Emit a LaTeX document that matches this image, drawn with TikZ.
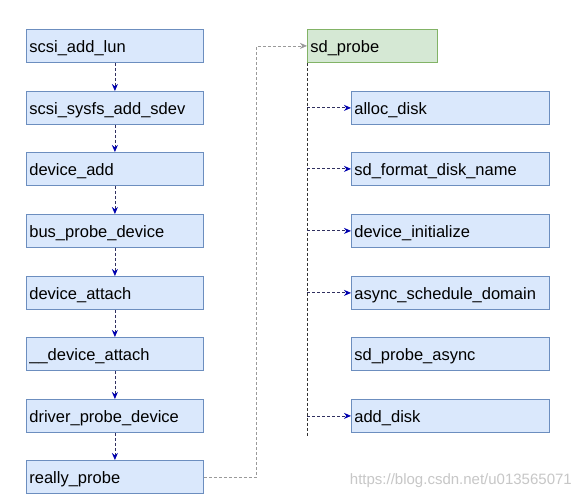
\documentclass[tikz,border=0pt]{standalone}
\usepackage{fontspec}
\setmainfont{Liberation Sans}
\usetikzlibrary{arrows.meta}
\definecolor{bfill}{HTML}{DAE8FC}
\definecolor{bdraw}{HTML}{6C8EBF}
\definecolor{gfill}{HTML}{D5E8D4}
\definecolor{gdraw}{HTML}{82B366}
\definecolor{arr}{HTML}{0000B0}
\definecolor{aline}{HTML}{303060}
\definecolor{conn}{HTML}{9A9A9A}
\begin{document}
\begin{tikzpicture}[x=1pt,y=-1pt,
  fbox/.style={draw=bdraw,fill=bfill,line width=0.8pt,anchor=north west,minimum height=33pt,
    inner xsep=3pt,inner ysep=0pt,align=left,text height=13pt,text depth=0pt,font=\fontsize{16.5}{18}\selectfont},
  lbox/.style={fbox,text width=171pt},
  rbox/.style={fbox,text width=192pt},
  gbox/.style={fbox,draw=gdraw,fill=gfill,text width=124pt},
  darr/.style={aline,dash pattern=on 3pt off 2pt,line width=0.8pt,-{Stealth[length=7pt,width=6pt,color=arr]}},
  vline/.style={black!80,dash pattern=on 3pt off 2pt,line width=0.7pt},
  garr/.style={conn,dash pattern=on 3pt off 2pt,line width=0.7pt,-{Stealth[length=7pt,width=6pt]}}]
\useasboundingbox (0,0) rectangle (574,500);
\fill[white] (0,0) rectangle (574,500);
% left column
\node[lbox] (l1) at (26,29) {scsi\_add\_lun};
\node[lbox] (l2) at (26,91) {scsi\_sysfs\_add\_sdev};
\node[lbox] (l3) at (26,152) {device\_add};
\node[lbox] (l4) at (26,214) {bus\_probe\_device};
\node[lbox] (l5) at (26,276) {device\_attach};
\node[lbox] (l6) at (26,337) {\_\_device\_attach};
\node[lbox] (l7) at (26,399) {driver\_probe\_device};
\node[lbox] (l8) at (26,460) {really\_probe};
\foreach \a/\b in {l1/l2,l2/l3,l3/l4,l4/l5,l5/l6,l6/l7,l7/l8}
  \draw[darr] (\a.south) -- (\b.north);
% right column
\node[gbox] (sd) at (307,29) {sd\_probe};
\node[rbox] (r1) at (351,91) {alloc\_disk};
\node[rbox] (r2) at (351,152) {sd\_format\_disk\_name};
\node[rbox] (r3) at (351,214) {device\_initialize};
\node[rbox] (r4) at (351,276) {async\_schedule\_domain};
\node[rbox] (r5) at (351,337) {sd\_probe\_async};
\node[rbox] (r6) at (351,399) {add\_disk};
\coordinate (vend) at (307,437);
\draw[vline] (sd.south west) -- (vend);
\foreach \r in {r1,r2,r3,r4,r6}
  \draw[darr] (sd.south west |- \r.west) -- (\r.west);
% connector really_probe -> sd_probe
\draw[garr] (l8.east) -- ++(53,0) |- (sd.west);
% watermark
\node[anchor=east,text=black!22,inner sep=0pt,font=\fontsize{15}{16}\selectfont] (wm) at (572,481) {https://blog.csdn.net/u013565071};
\end{tikzpicture}
\end{document}
